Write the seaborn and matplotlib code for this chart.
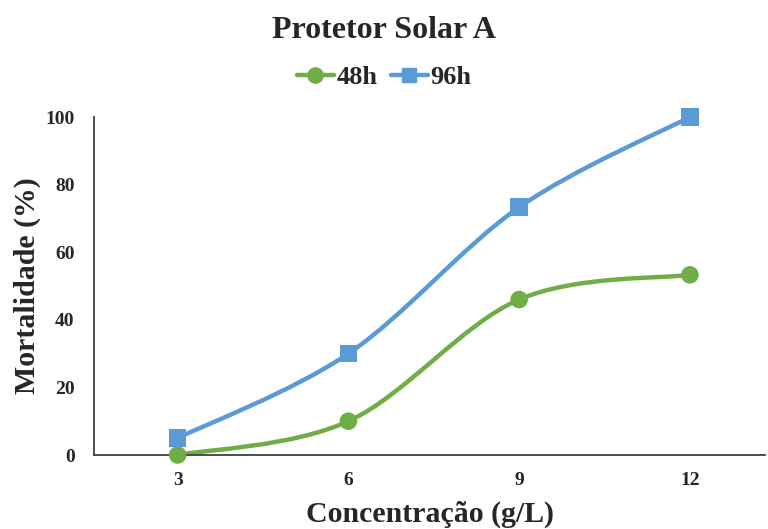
import matplotlib
matplotlib.use("Agg")
import matplotlib.pyplot as plt
import seaborn as sns
import pandas as pd
import numpy as np
from matplotlib.path import Path
from matplotlib.patches import PathPatch
from matplotlib.lines import Line2D

categories = ["3", "6", "9", "12"]
mort_48h = [0, 10, 46, 53.3]
mort_96h = [5, 30, 73.3, 100]
series_names = ["48h", "96h"]
yticks = [0, 20, 40, 60, 80, 100]

green = "#70AD47"
blue = "#5B9BD5"

sns.set_theme(style="white")
plt.rcParams["font.family"] = ["Liberation Serif", "DejaVu Serif"]
plt.rcParams["font.weight"] = "bold"

fig = plt.figure(figsize=(7.68, 5.29), dpi=100)
ax = fig.add_axes([94/768, 1-455/529, (765-94)/768, (455-117)/529])

df = pd.DataFrame({
    "pos": list(range(len(categories))) * 2,
    "val": mort_48h + mort_96h,
    "serie": [series_names[0]] * 4 + [series_names[1]] * 4,
})

def smooth_path(xs, ys):
    pts = np.column_stack([xs, ys]).astype(float)
    n = len(pts)
    verts = [pts[0]]
    codes = [Path.MOVETO]
    for i in range(n - 1):
        p0 = pts[i - 1] if i > 0 else pts[i]
        p1 = pts[i]
        p2 = pts[i + 1]
        p3 = pts[i + 2] if i + 2 < n else pts[i + 1]
        c1 = p1 + (p2 - p0) / 6.0
        c2 = p2 - (p3 - p1) / 6.0
        verts += [c1, c2, p2]
        codes += [Path.CURVE4] * 3
    return Path(verts, codes)

pos = np.arange(len(categories))
for vals, col in [(mort_48h, green), (mort_96h, blue)]:
    patch = PathPatch(smooth_path(pos, vals), facecolor="none", edgecolor=col,
                      lw=3.2, capstyle="round", joinstyle="round", clip_on=False, zorder=2)
    ax.add_patch(patch)

sns.scatterplot(data=df, x="pos", y="val", hue="serie", style="serie",
                markers={"48h": "o", "96h": "s"},
                palette={"48h": green, "96h": blue},
                s=160, edgecolor="none", legend=False, ax=ax, zorder=3, clip_on=False)

ax.set_xlim(-0.49, 3.44)
ax.set_ylim(0, 100)
ax.set_xticks(pos)
ax.set_xticklabels(categories)
ax.set_yticks(yticks)
ax.tick_params(axis="both", length=0, labelsize=14)
for lab in ax.get_xticklabels() + ax.get_yticklabels():
    lab.set_fontweight("bold")
ax.tick_params(axis="y", pad=14)
ax.tick_params(axis="x", pad=12)

for s in ["top", "right"]:
    ax.spines[s].set_visible(False)
for s in ["left", "bottom"]:
    ax.spines[s].set_color("#404040")
    ax.spines[s].set_linewidth(1.3)

ax.set_xlabel("Concentração (g/L)", fontsize=21.5, fontweight="bold", labelpad=9)
ax.set_ylabel("Mortalidade (%)", fontsize=21.5, fontweight="bold", labelpad=3)

fig.text(0.5, 1-38/529, "Protetor Solar A", ha="center", va="baseline",
         fontsize=23, fontweight="bold")

handles = [
    Line2D([], [], color=green, lw=3.2, marker="o", markersize=11, markeredgecolor=green),
    Line2D([], [], color=blue, lw=3.2, marker="s", markersize=10, markeredgecolor=blue),
]
fig.legend(handles, series_names, loc="center", bbox_to_anchor=(0.5, 1-77/529),
           ncol=2, frameon=False, prop={"size": 19, "weight": "bold"},
           handlelength=1.4, handletextpad=0.1, columnspacing=0.5)

fig.savefig("out.png", dpi=100)
